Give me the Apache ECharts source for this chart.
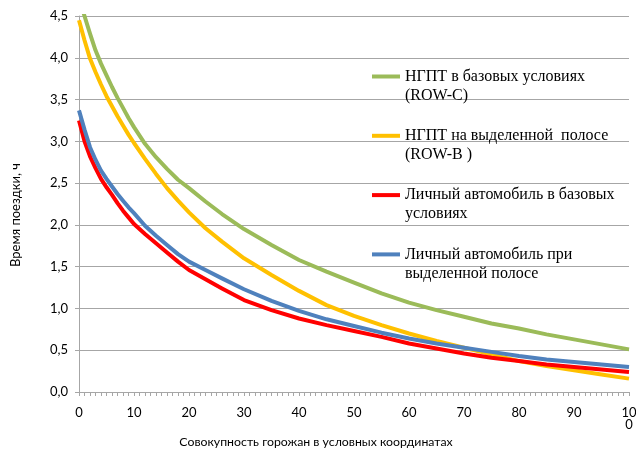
<!DOCTYPE html>
<html>
<head>
<meta charset="utf-8">
<script src="https://cdn.jsdelivr.net/npm/echarts@6/dist/echarts.min.js"></script>
<style>html,body{margin:0;padding:0;background:#fff}#c{width:636px;height:449px}</style>
</head>
<body>
<div id="c"></div>
<script>
// Data
const xValues   = [0, 1, 2, 3, 4, 5, 6, 7, 8, 9, 10, 12, 14, 16, 18, 20, 23, 26, 30, 35, 40, 45, 50, 55, 60, 65, 70, 75, 80, 85, 90, 95, 100];
const ngptRowC  = [4.72, 4.50, 4.29, 4.09, 3.93, 3.79, 3.65, 3.52, 3.40, 3.28, 3.17, 2.97, 2.81, 2.67, 2.54, 2.44, 2.28, 2.13, 1.95, 1.76, 1.58, 1.44, 1.31, 1.18, 1.07, 0.98, 0.90, 0.82, 0.76, 0.69, 0.63, 0.57, 0.51];
const ngptRowB  = [4.45, 4.21, 3.99, 3.83, 3.68, 3.54, 3.42, 3.30, 3.19, 3.08, 2.98, 2.79, 2.61, 2.44, 2.29, 2.15, 1.96, 1.80, 1.60, 1.40, 1.21, 1.04, 0.91, 0.80, 0.70, 0.61, 0.53, 0.45, 0.37, 0.31, 0.26, 0.21, 0.16];
const carBase   = [3.25, 3.00, 2.82, 2.68, 2.55, 2.45, 2.36, 2.26, 2.17, 2.09, 2.01, 1.89, 1.78, 1.67, 1.56, 1.46, 1.35, 1.24, 1.10, 0.98, 0.88, 0.80, 0.73, 0.66, 0.58, 0.52, 0.46, 0.41, 0.37, 0.33, 0.30, 0.27, 0.24];
const carLane   = [3.37, 3.14, 2.93, 2.78, 2.65, 2.55, 2.46, 2.37, 2.29, 2.21, 2.14, 1.99, 1.87, 1.76, 1.65, 1.56, 1.46, 1.36, 1.23, 1.09, 0.97, 0.87, 0.79, 0.71, 0.64, 0.58, 0.53, 0.48, 0.43, 0.39, 0.36, 0.33, 0.30];
const seriesNames = [
  'НГПТ в базовых условиях\n(ROW-C)',
  'НГПТ на выделенной  полосе\n(ROW-B )',
  'Личный автомобиль в базовых\nусловиях',
  'Личный автомобиль при\nвыделенной полосе'
];
const xTickLabels = {0:'0',10:'10',20:'20',30:'30',40:'40',50:'50',60:'60',70:'70',80:'80',90:'90',100:'10\n0'};
const yAxisTitle = 'Время поездки, ч';
const xAxisTitle = 'Совокупность горожан в условных координатах';

const colors = ['#9BBB59', '#FFC000', '#FF0000', '#4F81BD'];
const values = [ngptRowC, ngptRowB, carBase, carLane];
const pairs = v => xValues.map((x, i) => [x, v[i]]);

const chart = echarts.init(document.getElementById('c'), null, {renderer: 'canvas'});
const gray = '#a6a6a6';
chart.setOption({
  animation: false,
  textStyle: {fontFamily: 'Lato'},
  grid: {left: 79, right: 7, top: 16, bottom: 57, containLabel: false, outerBoundsMode: 'none'},
  legend: {
    orient: 'vertical',
    left: 367,
    top: 43,
    itemGap: 2.3,
    itemWidth: 28,
    itemHeight: 4,
    icon: 'rect',
    selectedMode: false,
    data: seriesNames,
    formatter: n => ' \n' + n,
    textStyle: {fontFamily: 'Liberation Serif', fontSize: 16, color: '#000', lineHeight: 19}
  },
  xAxis: {
    type: 'value', min: 0, max: 100, interval: 10,
    name: xAxisTitle, nameLocation: 'middle', nameGap: 43,
    nameTextStyle: {fontFamily: 'Lato', fontSize: 12.3, color: '#000', padding: [0, 76, 0, 0]},
    axisLine: {show: true, lineStyle: {color: gray, width: 1}},
    axisTick: {show: true, length: 4, inside: false, lineStyle: {color: gray}},
    minorTick: {show: true, splitNumber: 10, length: 4, lineStyle: {color: gray}},
    splitLine: {show: false},
    axisLabel: {fontFamily: 'Lato', fontSize: 13, color: '#000', margin: 15, lineHeight: 12,
      formatter: v => xTickLabels[v] !== undefined ? xTickLabels[v] : ''}
  },
  yAxis: {
    type: 'value', min: 0, max: 4.5, interval: 0.5,
    name: yAxisTitle, nameLocation: 'middle', nameGap: 57, nameRotate: 90,
    nameTextStyle: {fontFamily: 'Lato', fontSize: 13, color: '#000', padding: [0, 22, 0, 0]},
    axisLine: {show: true, lineStyle: {color: gray, width: 1}},
    axisTick: {show: true, length: 4, lineStyle: {color: gray}},
    splitLine: {show: true, lineStyle: {color: gray, width: 1}},
    axisLabel: {fontFamily: 'Lato', fontSize: 13, color: '#000', margin: 11,
      formatter: v => v.toFixed(1).replace('.', ',')}
  },
  series: seriesNames.map((n, i) => ({
    name: n, type: 'line', data: pairs(values[i]),
    smooth: false, showSymbol: false, symbol: 'none', clip: true,
    lineStyle: {color: colors[i], width: 4, join: 'round'},
    itemStyle: {color: colors[i]}
  }))
});
</script>
</body>
</html>
